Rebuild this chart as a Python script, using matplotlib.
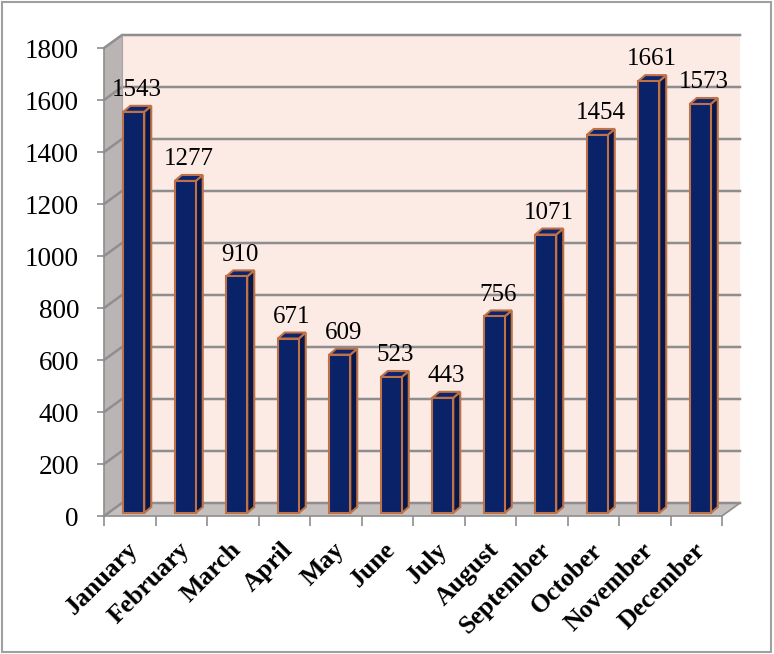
import matplotlib
matplotlib.use("Agg")
import matplotlib.pyplot as plt
import matplotlib.transforms as mtransforms
from matplotlib.patches import Polygon, Rectangle
import numpy as np

# data
months = ["January", "February", "March", "April", "May", "June", "July",
          "August", "September", "October", "November", "December"]
counts = [1543, 1277, 910, 671, 609, 523, 443, 756, 1071, 1454, 1661, 1573]
yticks = [0, 200, 400, 600, 800, 1000, 1200, 1400, 1600, 1800]

plt.rcParams['font.family'] = ['Liberation Serif', 'DejaVu Serif']

W_PX, H_PX = 774, 654
fig = plt.figure(figsize=(W_PX / 100, H_PX / 100), dpi=100)

# front plane of the pseudo-3d box, in pixels
left, right, bottom, top = 104, 722, 516, 48
ax = fig.add_axes([left / W_PX, (H_PX - bottom) / H_PX,
                   (right - left) / W_PX, (bottom - top) / H_PX])
ax.set_xlim(-0.5, 11.5)
ax.set_ylim(0, 1800)

# pixel -> data conversion for the depth offsets
sx = 12 / (right - left)
sy = 1800 / (bottom - top)
DX, DY = 18 * sx, 13 * sy          # back wall offset
BX, BY = 4 * sx, 3 * sy            # bars sit slightly behind the front
BW = 21 * sx                       # bar front width
BDX, BDY = 7 * sx, 6 * sy          # bar depth

wall_col = '#FCEAE5'
side_col = '#BAB5B4'
floor_col = '#C5BFBE'
grid_col = '#8E8E8E'
x0, x1 = -0.5, 11.5

# back wall, side wall, floor
ax.add_patch(Polygon([(x0 + DX, DY), (x1 + DX, DY), (x1 + DX, 1800 + DY), (x0 + DX, 1800 + DY)],
                     closed=True, fc=wall_col, ec='none', clip_on=False, zorder=0))
ax.add_patch(Polygon([(x0, 0), (x0, 1800), (x0 + DX, 1800 + DY), (x0 + DX, DY)],
                     closed=True, fc=side_col, ec='none', clip_on=False, zorder=0.5))
ax.add_patch(Polygon([(x0, 0), (x1, 0), (x1 + DX, DY), (x0 + DX, DY)],
                     closed=True, fc=floor_col, ec='none', clip_on=False, zorder=0.5))

for v in yticks:
    ax.plot([x0, x0 + DX, x1 + DX], [v, v + DY, v + DY], color=grid_col, lw=1.8,
            clip_on=False, zorder=1, solid_joinstyle='miter')
ax.plot([x1, x1 + DX], [0, DY], color=grid_col, lw=1.2, clip_on=False, zorder=1)
ax.plot([x0 + DX, x0 + DX], [DY, 1800 + DY], color='#A8A4A4', lw=0.8, clip_on=False, zorder=1)

# bars
front_col = '#0A2268'
side_bar = '#08174A'
top_col = '#0C256E'
edge = '#BF7245'
for i, v in enumerate(counts):
    xl = i - BW / 2 + BX
    xr = xl + BW
    yb, yt = BY, v + BY
    ax.add_patch(Polygon([(xr, yb), (xr + BDX, yb + BDY), (xr + BDX, yt + BDY), (xr, yt)],
                         closed=True, fc=side_bar, ec=edge, lw=1.5, clip_on=False, zorder=3))
    ax.add_patch(Polygon([(xl, yt), (xr, yt), (xr + BDX, yt + BDY), (xl + BDX, yt + BDY)],
                         closed=True, fc=top_col, ec=edge, lw=1.5, clip_on=False, zorder=3))
    ax.add_patch(Rectangle((xl, yb), BW, v, fc=front_col, ec=edge, lw=1.5,
                           clip_on=False, zorder=4))
    ax.annotate(str(v), (i + BX + BDX / 2, yt + BDY), xytext=(0, 7),
                textcoords='offset points', ha='center', va='baseline',
                fontsize=18, zorder=5, annotation_clip=False)

# axes styling
for s in ['top', 'right']:
    ax.spines[s].set_visible(False)
for s in ['left', 'bottom']:
    ax.spines[s].set_color(grid_col)
    ax.spines[s].set_linewidth(1.2)
    ax.spines[s].set_zorder(2)

ax.set_yticks(yticks)
ax.set_yticklabels([str(t) for t in yticks], fontsize=19.5)
ax.tick_params(axis='y', length=5, width=1.2, color=grid_col, pad=13)

ax.set_xticks(np.arange(len(months)))
ax.set_xticklabels(months, rotation=45, ha='right', va='center',
                   rotation_mode='anchor', fontsize=18.5, fontweight='bold')
ax.set_xticks(np.arange(-0.5, 12, 1), minor=True)
ax.tick_params(axis='x', which='major', length=0, pad=19)
ax.tick_params(axis='x', which='minor', length=7, width=1.2, color=grid_col)
shift = mtransforms.ScaledTranslation(0.05, -0.04, fig.dpi_scale_trans)
for lbl in ax.get_xticklabels():
    lbl.set_transform(lbl.get_transform() + shift)
ax.patch.set_visible(False)

# outer border
fig.patches.append(Rectangle((2 / W_PX, 2 / H_PX), 769 / W_PX, 650 / H_PX,
                             transform=fig.transFigure, fill=False,
                             ec='#A0A0A0', lw=1.5))

fig.savefig('out.png', dpi=100)
